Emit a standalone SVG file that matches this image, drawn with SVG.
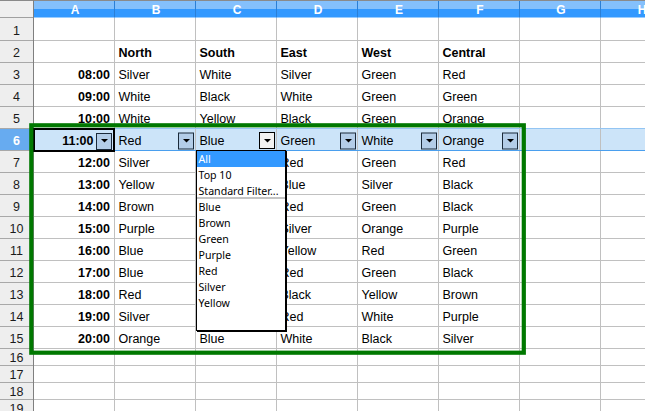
<svg xmlns="http://www.w3.org/2000/svg" width="645" height="411" viewBox="0 0 645 411">
<style>
.c{font-family:"Liberation Sans",Arial,sans-serif;font-size:12.5px;fill:#000}
.b{font-weight:bold}
.t{text-anchor:end;font-weight:bold}
.rh{font-family:"Liberation Sans",Arial,sans-serif;font-size:12.5px;fill:#1a1a1a;text-anchor:middle}
.ch{font-family:"Liberation Sans",Arial,sans-serif;font-size:12px;font-weight:bold;fill:#fff;text-anchor:middle}
.g{stroke:#c0c0c0;stroke-width:1;fill:none}
.rs{stroke:#a8a8a8;stroke-width:1;fill:none}
.hs{stroke:#2b7fd6;stroke-width:1;fill:none}
.btn{fill:#b3cde8;stroke:#1b2a3a;stroke-width:1}
.tri{fill:#000}
.pm{font-family:"Noto Sans","DejaVu Sans",sans-serif;font-size:10.6px;fill:#000}
</style>
<rect x="0" y="0" width="645" height="411" fill="#fff"/>
<g id="selected-row">
<rect x="34" y="129" width="611" height="21" fill="#cce4f9"/>
</g>
<g id="grid">
<path class="g" d="M33,40.5H645M33,62.5H645M33,84.5H645M33,106.5H645M33,128.5H645M33,150.5H645M33,172.5H645M33,194.5H645M33,216.5H645M33,238.5H645M33,260.5H645M33,282.5H645M33,304.5H645M33,326.5H645M33,348.5H645M33,365.5H645M33,382.5H645M33,399.5H645"/>
<path class="g" d="M114.5,18V411M195.5,18V411M276.5,18V411M357.5,18V411M438.5,18V411M519.5,18V411M600.5,18V411"/>
<path d="M34,128.5H645" stroke="#93c5f3" stroke-width="1"/>
<path d="M34,150.5H645" stroke="#4a9fee" stroke-width="1"/>
</g>
<g id="column-header">
<rect x="33" y="0" width="612" height="9" fill="#84c0fc"/>
<rect x="33" y="9" width="612" height="8.5" fill="#3399ff"/>
<path class="hs" d="M114.5,0V17.5M195.5,0V17.5M276.5,0V17.5M357.5,0V17.5M438.5,0V17.5M519.5,0V17.5M600.5,0V17.5"/>
<rect x="0" y="0" width="33" height="17.5" fill="#efefef"/>
<path d="M0,0.5H645" stroke="#8a8a8a" stroke-width="1"/>
<path d="M0,17.5H33" stroke="#a0a0a0" stroke-width="1"/>
<text class="ch" x="75" y="14">A</text>
<text class="ch" x="156" y="14">B</text>
<text class="ch" x="237" y="14">C</text>
<text class="ch" x="318" y="14">D</text>
<text class="ch" x="399" y="14">E</text>
<text class="ch" x="480" y="14">F</text>
<text class="ch" x="561" y="14">G</text>
<text class="ch" x="642" y="14">H</text>
</g>
<g id="row-header">
<rect x="0" y="18" width="33" height="393" fill="#eeeeee"/>
<rect x="0" y="129" width="33" height="21" fill="#67abf0"/>
<path class="rs" d="M0,40.5H33M0,62.5H33M0,84.5H33M0,106.5H33M0,128.5H33M0,150.5H33M0,172.5H33M0,194.5H33M0,216.5H33M0,238.5H33M0,260.5H33M0,282.5H33M0,304.5H33M0,326.5H33M0,348.5H33M0,365.5H33M0,382.5H33M0,399.5H33"/>
<path d="M33.5,0V411" stroke="#7f7f7f" stroke-width="1"/>
<text class="rh" x="16.5" y="34.5">1</text>
<text class="rh" x="16.5" y="56.5">2</text>
<text class="rh" x="16.5" y="78.5">3</text>
<text class="rh" x="16.5" y="100.5">4</text>
<text class="rh" x="16.5" y="122.5">5</text>
<text class="rh b" x="16.5" y="144.5" style="fill:#fff">6</text>
<text class="rh" x="16.5" y="166.5">7</text>
<text class="rh" x="16.5" y="188.5">8</text>
<text class="rh" x="16.5" y="210.5">9</text>
<text class="rh" x="16.5" y="232.5">10</text>
<text class="rh" x="16.5" y="254.5">11</text>
<text class="rh" x="16.5" y="276.5">12</text>
<text class="rh" x="16.5" y="298.5">13</text>
<text class="rh" x="16.5" y="320.5">14</text>
<text class="rh" x="16.5" y="342.5">15</text>
<text class="rh" x="16.5" y="361.5">16</text>
<text class="rh" x="16.5" y="378.5">17</text>
<text class="rh" x="16.5" y="395.5">18</text>
<text class="rh" x="16.5" y="412.5">19</text>
</g>
<g id="cells">
<text class="c b" x="118.5" y="56.5">North</text>
<text class="c b" x="199.5" y="56.5">South</text>
<text class="c b" x="280.5" y="56.5">East</text>
<text class="c b" x="361.5" y="56.5">West</text>
<text class="c b" x="442.5" y="56.5">Central</text>

<text class="c t" x="110" y="78.5">08:00</text>
<text class="c" x="118.5" y="78.5">Silver</text>
<text class="c" x="199.5" y="78.5">White</text>
<text class="c" x="280.5" y="78.5">Silver</text>
<text class="c" x="361.5" y="78.5">Green</text>
<text class="c" x="442.5" y="78.5">Red</text>

<text class="c t" x="110" y="100.5">09:00</text>
<text class="c" x="118.5" y="100.5">White</text>
<text class="c" x="199.5" y="100.5">Black</text>
<text class="c" x="280.5" y="100.5">White</text>
<text class="c" x="361.5" y="100.5">Green</text>
<text class="c" x="442.5" y="100.5">Green</text>

<text class="c t" x="110" y="122.5">10:00</text>
<text class="c" x="118.5" y="122.5">White</text>
<text class="c" x="199.5" y="122.5">Yellow</text>
<text class="c" x="280.5" y="122.5">Black</text>
<text class="c" x="361.5" y="122.5">Green</text>
<text class="c" x="442.5" y="122.5">Orange</text>

<text class="c t" x="93.5" y="144.5">11:00</text>
<text class="c" x="118.5" y="144.5">Red</text>
<text class="c" x="199.5" y="144.5">Blue</text>
<text class="c" x="280.5" y="144.5">Green</text>
<text class="c" x="361.5" y="144.5">White</text>
<text class="c" x="442.5" y="144.5">Orange</text>

<text class="c t" x="110" y="166.5">12:00</text>
<text class="c" x="118.5" y="166.5">Silver</text>
<text class="c" x="280.5" y="166.5">Red</text>
<text class="c" x="361.5" y="166.5">Green</text>
<text class="c" x="442.5" y="166.5">Red</text>

<text class="c t" x="110" y="188.5">13:00</text>
<text class="c" x="118.5" y="188.5">Yellow</text>
<text class="c" x="280.5" y="188.5">Blue</text>
<text class="c" x="361.5" y="188.5">Silver</text>
<text class="c" x="442.5" y="188.5">Black</text>

<text class="c t" x="110" y="210.5">14:00</text>
<text class="c" x="118.5" y="210.5">Brown</text>
<text class="c" x="280.5" y="210.5">Red</text>
<text class="c" x="361.5" y="210.5">Green</text>
<text class="c" x="442.5" y="210.5">Black</text>

<text class="c t" x="110" y="232.5">15:00</text>
<text class="c" x="118.5" y="232.5">Purple</text>
<text class="c" x="280.5" y="232.5">Silver</text>
<text class="c" x="361.5" y="232.5">Orange</text>
<text class="c" x="442.5" y="232.5">Purple</text>

<text class="c t" x="110" y="254.5">16:00</text>
<text class="c" x="118.5" y="254.5">Blue</text>
<text class="c" x="280.5" y="254.5">Yellow</text>
<text class="c" x="361.5" y="254.5">Red</text>
<text class="c" x="442.5" y="254.5">Green</text>

<text class="c t" x="110" y="276.5">17:00</text>
<text class="c" x="118.5" y="276.5">Blue</text>
<text class="c" x="280.5" y="276.5">Red</text>
<text class="c" x="361.5" y="276.5">Green</text>
<text class="c" x="442.5" y="276.5">Black</text>

<text class="c t" x="110" y="298.5">18:00</text>
<text class="c" x="118.5" y="298.5">Red</text>
<text class="c" x="280.5" y="298.5">Black</text>
<text class="c" x="361.5" y="298.5">Yellow</text>
<text class="c" x="442.5" y="298.5">Brown</text>

<text class="c t" x="110" y="320.5">19:00</text>
<text class="c" x="118.5" y="320.5">Silver</text>
<text class="c" x="280.5" y="320.5">Red</text>
<text class="c" x="361.5" y="320.5">White</text>
<text class="c" x="442.5" y="320.5">Purple</text>

<text class="c t" x="110" y="342.5">20:00</text>
<text class="c" x="118.5" y="342.5">Orange</text>
<text class="c" x="199.5" y="342.5">Blue</text>
<text class="c" x="280.5" y="342.5">White</text>
<text class="c" x="361.5" y="342.5">Black</text>
<text class="c" x="442.5" y="342.5">Silver</text>
</g>
<g id="filter-buttons">
<rect class="btn" x="96.5" y="133.5" width="15" height="16"/>
<polygon class="tri" points="101,139 108,139 104.5,142.5"/>
<rect class="btn" x="178.5" y="133" width="15" height="16"/>
<polygon class="tri" points="183,139 190,139 186.5,142.5"/>
<rect x="259.5" y="132.5" width="15" height="16" fill="#f2f2f2" stroke="#000" stroke-width="1"/>
<polygon class="tri" points="264,139 271,139 267.5,142.5"/>
<rect class="btn" x="340.5" y="133" width="15" height="16"/>
<polygon class="tri" points="345,139 352,139 348.5,142.5"/>
<rect class="btn" x="421.5" y="133" width="15" height="16"/>
<polygon class="tri" points="426,139 433,139 429.5,142.5"/>
<rect class="btn" x="502.5" y="133" width="15" height="16"/>
<polygon class="tri" points="507,139 514,139 510.5,142.5"/>
</g>
<g id="active-cell">
<rect x="34" y="129" width="80" height="22" fill="none" stroke="#000" stroke-width="2"/>
</g>
<g id="autofilter-popup">
<rect x="196.5" y="150.5" width="89" height="180" fill="#fff" stroke="#000" stroke-width="1"/>
<path d="M286.5,151V332M197,331.5H287" stroke="#000" stroke-width="1" fill="none"/>
<rect x="197" y="151" width="88" height="16" fill="#3399ff"/>
<path d="M197,198H285" stroke="#c4c4c4" stroke-width="2"/>
<text class="pm" x="198.5" y="163" style="fill:#fff">All</text>
<text class="pm" x="198.5" y="179">Top 10</text>
<text class="pm" x="198.5" y="195">Standard Filter...</text>
<text class="pm" x="198.5" y="211">Blue</text>
<text class="pm" x="198.5" y="227">Brown</text>
<text class="pm" x="198.5" y="243">Green</text>
<text class="pm" x="198.5" y="259">Purple</text>
<text class="pm" x="198.5" y="275">Red</text>
<text class="pm" x="198.5" y="291">Silver</text>
<text class="pm" x="198.5" y="307">Yellow</text>
</g>
<g id="highlight-frame">
<rect x="31.3" y="125.3" width="492.5" height="227.4" fill="none" stroke="#007800" stroke-width="4.2"/>
</g>
</svg>
